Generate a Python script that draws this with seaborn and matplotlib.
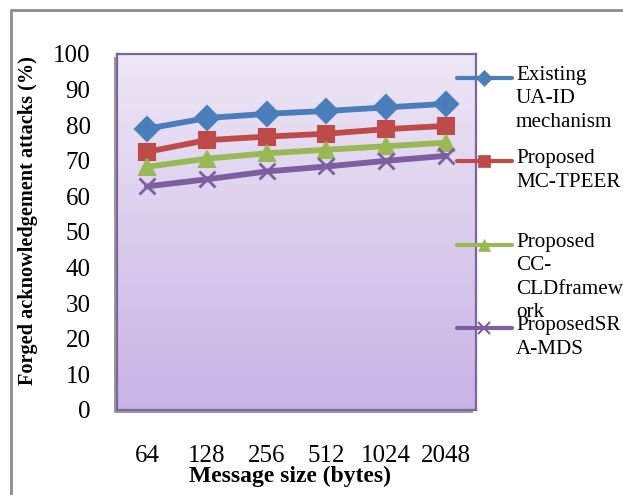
import numpy as np
import pandas as pd
import matplotlib
matplotlib.use("Agg")
import matplotlib.pyplot as plt
from matplotlib.lines import Line2D
from matplotlib.patches import Rectangle
from matplotlib.colors import LinearSegmentedColormap
import seaborn as sns

sizes = ["64", "128", "256", "512", "1024", "2048"]
existing_ua_id = [79, 82, 83.2, 84, 85, 86]
proposed_mc_tpeer = [72.5, 75.8, 76.8, 77.6, 78.9, 79.8]
proposed_cc_cld = [68.3, 70.6, 72.1, 73.1, 74.1, 75.1]
proposed_sra_mds = [62.8, 64.8, 67, 68.4, 70, 71.4]

series_names = ["Existing UA-ID mechanism", "Proposed MC-TPEER",
                "Proposed CC-CLDframework", "ProposedSRA-MDS"]
legend_labels = ["Existing\nUA-ID\nmechanism", "Proposed\nMC-TPEER",
                 "Proposed\nCC-\nCLDframew\nork", "ProposedSR\nA-MDS"]
colors = ["#4A7EBB", "#BE4B48", "#98B954", "#7D5FA0"]
markers = ["D", "s", "^", "x"]
yticks = list(range(0, 101, 10))

df = pd.DataFrame({
    "size": sizes * 4,
    "value": existing_ua_id + proposed_mc_tpeer + proposed_cc_cld + proposed_sra_mds,
    "series": sum([[n] * len(sizes) for n in series_names], []),
})

sns.set_theme(style="white")
plt.rcParams["font.family"] = ["Liberation Serif", "DejaVu Serif"]

W, H = 623, 495
fig = plt.figure(figsize=(W / 100, H / 100), dpi=100)
fig.patch.set_facecolor("white")

l, r, t, b = 117, 476, 54, 410
pos = [l / W, 1 - b / H, (r - l) / W, (b - t) / H]

# shadow
fig.add_artist(Rectangle(((l - 3) / W, 1 - (b + 3) / H), (r - l) / W, (b - t) / H,
                         transform=fig.transFigure, facecolor="#9a9a9a",
                         edgecolor="none", zorder=0))

ax = fig.add_axes(pos)
grad = np.linspace(0, 1, 256).reshape(-1, 1)
cmap = LinearSegmentedColormap.from_list("bg", ["#EEE7F6", "#C8B3E5"])
ax.imshow(grad, aspect="auto", cmap=cmap, extent=[0, 1, 0, 1],
          transform=ax.transAxes, zorder=0)

sns.pointplot(data=df, x="size", y="value", hue="series", hue_order=series_names,
              palette=colors, markers=markers, linestyles="-", errorbar=None,
              markersize=12, linewidth=4.2, markeredgewidth=1.5, ax=ax,
              legend=False, order=sizes)

for ln in ax.lines:
    ln.set_zorder(3)
    if ln.get_marker() == "x":
        ln.set_markersize(11)
        ln.set_markeredgewidth(2)

ax.set_xlim(-0.5, len(sizes) - 0.5)
ax.set_ylim(0, 100)
ax.set_yticks(yticks)
ax.set_yticklabels([str(v) for v in yticks])
ax.tick_params(axis="y", length=0, pad=19, labelsize=18, labelcolor="black")
ax.tick_params(axis="x", length=0, pad=25, labelsize=18, labelcolor="black")
for s in ax.spines.values():
    s.set_color("#8064A2")
    s.set_linewidth(1.6)
ax.set_xlabel("Message size (bytes)", fontsize=17, fontweight="bold", labelpad=0,
              color="black")
ax.set_ylabel("Forged acknowledgement attacks (%)", fontsize=14.6, fontweight="bold",
              color="black")
ax.yaxis.set_label_coords((38 - l) / (r - l), (410 - 221) / (b - t))
ax.xaxis.set_label_coords((290 - l) / (r - l), -(476 - b) / (b - t))
ax.xaxis.label.set_va("center")

# outer chart border
fig.add_artist(Line2D([11 / W, 11 / W], [0, 1 - 10 / H], transform=fig.transFigure,
                      color="#8c8c8c", lw=2))
fig.add_artist(Line2D([11 / W, 1], [1 - 10 / H, 1 - 10 / H], transform=fig.transFigure,
                      color="#8c8c8c", lw=2))

# legend drawn entry by entry
for i, (lab, c, m) in enumerate(zip(legend_labels, colors, markers)):
    yy = 1 - (78 + 83.4 * i) / H
    fig.add_artist(Line2D([457 / W, 512 / W], [yy, yy], transform=fig.transFigure,
                          color=c, lw=3))
    fig.add_artist(Line2D([484 / W], [yy], transform=fig.transFigure, color=c,
                          marker=m, markersize=8 if m != "x" else 9,
                          markeredgewidth=1.5 if m == "x" else 0.5, linestyle="none"))
    fig.text(516 / W, yy + 12 / H, lab, ha="left", va="top", fontsize=15.2,
             linespacing=1.32, color="black")

fig.savefig("out.png", dpi=100)
